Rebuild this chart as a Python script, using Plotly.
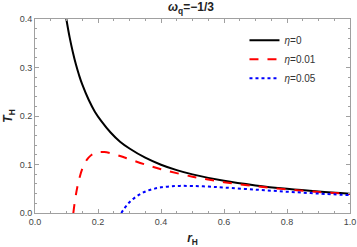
import plotly.graph_objects as go

# eta = 0
r0 = [0.099, 0.10, 0.11, 0.12, 0.13, 0.14, 0.15, 0.17, 0.19, 0.21, 0.24, 0.27, 0.30,
      0.35, 0.40, 0.45, 0.50, 0.60, 0.70, 0.80, 0.90, 1.00]
T0 = [0.402, 0.398, 0.362, 0.332, 0.306, 0.284, 0.265, 0.234, 0.209, 0.190, 0.166, 0.147,
      0.133, 0.114, 0.0995, 0.0884, 0.0796, 0.0663, 0.0569, 0.0498, 0.0442, 0.0398]

# eta = 0.01
r1 = [0.1217, 0.125, 0.13, 0.135, 0.14, 0.15, 0.16, 0.17, 0.18, 0.19, 0.20, 0.22, 0.24,
      0.27, 0.30, 0.35, 0.40, 0.50, 0.60, 0.70, 0.80, 0.90, 1.00]
T1 = [0.0, 0.0168, 0.0381, 0.0554, 0.0696, 0.0908, 0.1050, 0.1142, 0.1201, 0.1236, 0.1254,
      0.1256, 0.1232, 0.1175, 0.1109, 0.1000, 0.0903, 0.0749, 0.0636, 0.0552, 0.0486,
      0.0434, 0.0392]

# eta = 0.05
r2 = [0.274, 0.28, 0.29, 0.30, 0.32, 0.34, 0.36, 0.38, 0.40, 0.43, 0.46, 0.50, 0.55,
      0.60, 0.70, 0.80, 0.90, 1.00]
T2 = [0.0, 0.0062, 0.0148, 0.0221, 0.0333, 0.0411, 0.0466, 0.0503, 0.0529, 0.0550, 0.0559,
      0.0557, 0.0544, 0.0525, 0.0482, 0.0439, 0.0401, 0.0368]

names = ["<i>η</i>=0", "<i>η</i>=0.01", "<i>η</i>=0.05"]
xticks = [0.0, 0.2, 0.4, 0.6, 0.8, 1.0]
yticks = [0.0, 0.1, 0.2, 0.3, 0.4]

fig = go.Figure()
fig.add_trace(go.Scatter(x=r0, y=T0, mode="lines", name=names[0],
                         line=dict(color="black", width=2, shape="spline")))
fig.add_trace(go.Scatter(x=r1, y=T1, mode="lines", name=names[1],
                         line=dict(color="#ff0000", width=2, dash="dash", shape="spline")))
fig.add_trace(go.Scatter(x=r2, y=T2, mode="lines", name=names[2],
                         line=dict(color="#0000ff", width=2, dash="dot", shape="spline")))

axis_common = dict(showline=True, linecolor="#a0a0a0", linewidth=1, mirror="allticks",
                   ticks="inside", tickcolor="#a0a0a0", ticklen=4, showgrid=False,
                   zeroline=False, automargin=False,
                   tickfont=dict(family="Liberation Sans", size=9, color="#444444"))

fig.update_layout(
    width=357, height=247,
    margin=dict(l=35, r=7, t=19, b=34),
    plot_bgcolor="white", paper_bgcolor="white",
    title=dict(text="<b><i>ω</i><sub>q</sub>=−1/3</b>", x=0.535, xanchor="center", y=0.988,
               yanchor="top", font=dict(family="Liberation Sans", size=12, color="#222222")),
    xaxis=dict(range=[0, 1], tickvals=xticks, ticktext=[f"{v:.1f}" for v in xticks],
               minor=dict(dtick=0.05, ticks="inside", ticklen=2, tickcolor="#a0a0a0"),
               title=dict(text="<b><i>r</i><sub>H</sub></b>", standoff=10,
                          font=dict(family="Liberation Sans", size=12, color="#222222")),
               **axis_common),
    yaxis=dict(range=[0, 0.4], tickvals=yticks, ticktext=[f"{v:.1f}" for v in yticks],
               minor=dict(dtick=0.02, ticks="inside", ticklen=2, tickcolor="#a0a0a0"),
               title=dict(text="<b><i>T</i><sub>H</sub></b>", standoff=4,
                          font=dict(family="Liberation Sans", size=12, color="#222222")),
               **axis_common),
    legend=dict(x=0.665, y=0.965, xanchor="left", yanchor="top", bgcolor="rgba(0,0,0,0)",
                font=dict(family="Liberation Sans", size=10, color="#333333"),
                tracegroupgap=0),
    showlegend=True,
)

fig.write_html("out.html", config={"displayModeBar": False},
               post_script="document.body.style.margin='0';document.body.style.padding='0';")
